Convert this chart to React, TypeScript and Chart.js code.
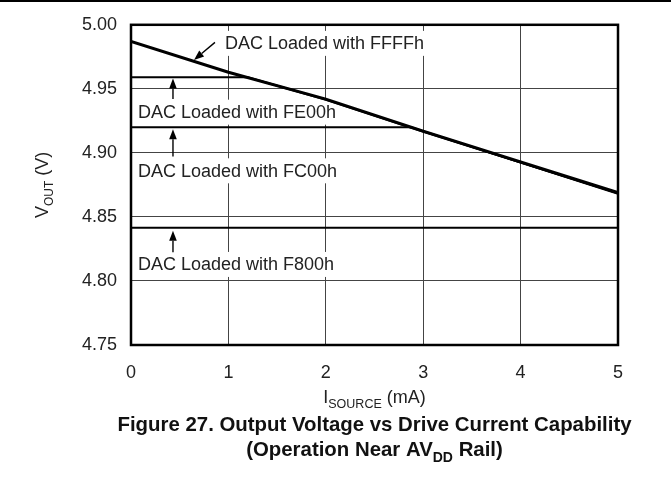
import React, { useEffect, useRef } from "react";
import { Chart, registerables } from "chart.js";

Chart.register(...registerables);

// ---- data ----
const currentTicks = [0, 1, 2, 3, 4, 5];
const voltageTicks = [4.75, 4.8, 4.85, 4.9, 4.95, 5.0];

const ffffCurrent = [0, 1, 2, 3, 4, 5];
const ffffVoltage = [4.987, 4.963, 4.942, 4.917, 4.893, 4.869];

const fe00Current = [0, 1.2, 2, 3, 4, 5];
const fe00Voltage = [4.959, 4.959, 4.9415, 4.9165, 4.8925, 4.8685];

const fc00Current = [0, 2.88, 3, 4, 5];
const fc00Voltage = [4.92, 4.92, 4.917, 4.8925, 4.868];

const f800Current = [0, 5];
const f800Voltage = [4.8415, 4.8415];

const annotationLabels = [
  "DAC Loaded with FFFFh",
  "DAC Loaded with FE00h",
  "DAC Loaded with FC00h",
  "DAC Loaded with F800h",
];

const FONT = '"Liberation Sans", Arial, Helvetica, sans-serif';

const toPoints = (xs: number[], ys: number[]) => xs.map((x, i) => ({ x, y: ys[i] }));

// annotation placement (data units): text anchor and arrow tail/head
const annotationPlacement = [
  { tx: 0.965, ty: 4.9855, ax0: 0.862, ay0: 4.9863, ax1: 0.647, ay1: 4.9726 },
  { tx: 0.072, ty: 4.9318, ax0: 0.431, ay0: 4.9421, ax1: 0.431, ay1: 4.9581 },
  { tx: 0.072, ty: 4.886, ax0: 0.431, ay0: 4.8971, ax1: 0.431, ay1: 4.9184 },
  { tx: 0.072, ty: 4.8129, ax0: 0.431, ay0: 4.8224, ax1: 0.431, ay1: 4.8392 },
];

function drawArrow(ctx: CanvasRenderingContext2D, x0: number, y0: number, x1: number, y1: number) {
  const ang = Math.atan2(y1 - y0, x1 - x0);
  const len = 10;
  const half = 3.8;
  const bx = x1 - len * Math.cos(ang);
  const by = y1 - len * Math.sin(ang);
  ctx.save();
  ctx.strokeStyle = "#000";
  ctx.fillStyle = "#000";
  ctx.lineWidth = 1.4;
  ctx.beginPath();
  ctx.moveTo(x0, y0);
  ctx.lineTo(bx, by);
  ctx.stroke();
  ctx.beginPath();
  ctx.moveTo(x1, y1);
  ctx.lineTo(bx + half * Math.sin(ang), by - half * Math.cos(ang));
  ctx.lineTo(bx - half * Math.sin(ang), by + half * Math.cos(ang));
  ctx.closePath();
  ctx.fill();
  ctx.restore();
}

function drawSubText(
  ctx: CanvasRenderingContext2D,
  parts: { t: string; sub?: boolean }[],
  cx: number,
  baseline: number,
  size: number,
  subSize: number,
  weight: string,
  color: string
) {
  const main = `${weight} ${size}px ${FONT}`;
  const small = `${weight} ${subSize}px ${FONT}`;
  let total = 0;
  const widths = parts.map((p) => {
    ctx.font = p.sub ? small : main;
    const w = ctx.measureText(p.t).width;
    total += w;
    return w;
  });
  let x = cx - total / 2;
  ctx.fillStyle = color;
  ctx.textAlign = "left";
  ctx.textBaseline = "alphabetic";
  parts.forEach((p, i) => {
    ctx.font = p.sub ? small : main;
    ctx.fillText(p.t, x, baseline + (p.sub ? size * 0.3 : 0));
    x += widths[i];
  });
}

const annotationPlugin = {
  id: "annotations",
  beforeDatasetsDraw(chart: any) {
    const { ctx, scales } = chart;
    const xs = scales.x;
    const ys = scales.y;
    ctx.save();
    ctx.font = `18px ${FONT}`;
    annotationLabels.forEach((label, i) => {
      const p = annotationPlacement[i];
      const tx = xs.getPixelForValue(p.tx);
      const ty = ys.getPixelForValue(p.ty);
      const w = ctx.measureText(label).width;
      ctx.fillStyle = "#fff";
      ctx.fillRect(tx - 4, ty - 12.5, w + 8, 25);
      ctx.fillStyle = "#222";
      ctx.textAlign = "left";
      ctx.textBaseline = "middle";
      ctx.fillText(label, tx, ty + 1);
      drawArrow(
        ctx,
        xs.getPixelForValue(p.ax0),
        ys.getPixelForValue(p.ay0),
        xs.getPixelForValue(p.ax1),
        ys.getPixelForValue(p.ay1)
      );
    });
    ctx.restore();
  },
  afterDraw(chart: any) {
    const { ctx, chartArea } = chart;
    const { left, right, top, bottom } = chartArea;
    ctx.save();
    // top rule of the page
    ctx.fillStyle = "#000";
    ctx.fillRect(0, 0, chart.width, 2);
    // plot frame
    ctx.strokeStyle = "#000";
    ctx.lineWidth = 2.5;
    ctx.strokeRect(left, top, right - left, bottom - top);
    // y title (rotated, with subscript)
    ctx.save();
    ctx.translate(42, (top + bottom) / 2);
    ctx.rotate(-Math.PI / 2);
    drawSubText(ctx, [{ t: "V" }, { t: "OUT", sub: true }, { t: " (V)" }], 0, 6, 18, 12, "normal", "#222");
    ctx.restore();
    // x title
    const cx = (left + right) / 2;
    drawSubText(ctx, [{ t: "I" }, { t: "SOURCE", sub: true }, { t: " (mA)" }], cx, 403, 18, 12.5, "normal", "#222");
    // caption
    drawSubText(ctx, [{ t: "Figure 27. Output Voltage vs Drive Current Capability" }], cx, 431, 20.4, 14, "bold", "#111");
    drawSubText(ctx, [{ t: "(Operation Near AV" }, { t: "DD", sub: true }, { t: " Rail)" }], cx, 456, 20.4, 14, "bold", "#111");
    ctx.restore();
  },
};

export default function App() {
  const canvasRef = useRef<HTMLCanvasElement | null>(null);

  useEffect(() => {
    if (!canvasRef.current) return;
    const lineStyle = (w: number) => ({
      borderColor: "#000",
      borderWidth: w,
      pointRadius: 0,
      fill: false,
      tension: 0,
    });
    const chart = new Chart(canvasRef.current, {
      type: "line",
      data: {
        datasets: [
          { label: annotationLabels[3], data: toPoints(f800Current, f800Voltage), ...lineStyle(2) },
          { label: annotationLabels[2], data: toPoints(fc00Current, fc00Voltage), ...lineStyle(2) },
          { label: annotationLabels[1], data: toPoints(fe00Current, fe00Voltage), ...lineStyle(2) },
          { label: annotationLabels[0], data: toPoints(ffffCurrent, ffffVoltage), ...lineStyle(3) },
        ],
      },
      options: {
        animation: false,
        responsive: false,
        devicePixelRatio: 1,
        layout: { padding: { left: 0, top: 17, right: 53, bottom: 0 } },
        plugins: { legend: { display: false }, tooltip: { enabled: false } },
        scales: {
          x: {
            type: "linear",
            min: 0,
            max: 5,
            afterBuildTicks: (scale: any) => {
              scale.ticks = currentTicks.map((v) => ({ value: v }));
            },
            afterFit: (scale: any) => {
              scale.height = 132;
            },
            ticks: {
              callback: (v: any) => String(v),
              font: { size: 18, family: FONT },
              color: "#222",
              padding: 17,
              maxRotation: 0,
            },
            grid: { color: "#444", lineWidth: 1, drawTicks: false },
            border: { display: false },
          },
          y: {
            type: "linear",
            min: 4.75,
            max: 5.0,
            afterBuildTicks: (scale: any) => {
              scale.ticks = voltageTicks.map((v) => ({ value: v }));
            },
            afterFit: (scale: any) => {
              scale.width = 131;
            },
            ticks: {
              callback: (v: any) => Number(v).toFixed(2),
              font: { size: 18, family: FONT },
              color: "#222",
              padding: 14,
            },
            grid: { color: "#444", lineWidth: 1, drawTicks: false },
            border: { display: false },
          },
        },
      },
      plugins: [annotationPlugin],
    } as any);
    return () => chart.destroy();
  }, []);

  return (
    <div style={{ position: "fixed", left: 0, top: 0, width: 671, height: 477, background: "#fff" }}>
      <canvas ref={canvasRef} width={671} height={477} style={{ width: 671, height: 477 }} />
    </div>
  );
}
